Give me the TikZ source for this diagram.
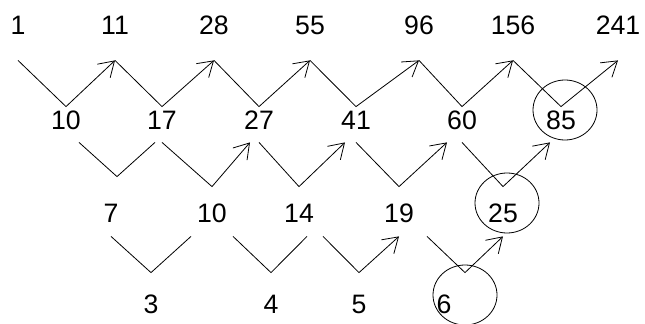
\documentclass[tikz,border=0pt]{standalone}
\usepackage{fontspec}
\setmainfont{Liberation Sans}
\usetikzlibrary{arrows.meta,shapes.geometric}

\begin{document}
\begin{tikzpicture}[x=0.75pt,y=-0.75pt,>={Straight Barb[length=11pt,width=14pt]},line width=0.6pt,every node/.style={font=\fontsize{20}{24}\selectfont,inner sep=0pt,anchor=base}]
\tikzstyle{rowA}=[text height=15pt,text depth=18.75pt]
\tikzstyle{rowB}=[text height=17.25pt,text depth=9pt]
\tikzstyle{rowC}=[text height=26.25pt,text depth=10.5pt]
\tikzstyle{rowD}=[text height=30pt,text depth=0pt]
\tikzstyle{ring}=[draw,ellipse,anchor=center,minimum width=48pt,minimum height=45pt]
\useasboundingbox (0,0) rectangle (645,324);
% sequence
\node[rowA] (a0) at (18,35) {1};
\node[rowA] (a1) at (115,35) {11};
\node[rowA] (a2) at (214,35) {28};
\node[rowA] (a3) at (310,35) {55};
\node[rowA] (a4) at (419,35) {96};
\node[rowA] (a5) at (513,35) {156};
\node[rowA] (a6) at (618,35) {241};
% first differences
\node[rowB] (b0) at (66,130) {10};
\node[rowB] (b1) at (162,130) {17};
\node[rowB] (b2) at (259,130) {27};
\node[rowB] (b3) at (356,130) {41};
\node[rowB] (b4) at (462,130) {60};
\node[rowB] (b5) at (561,130) {85};
% second differences
\node[rowC] (c0) at (111,222) {7};
\node[rowC] (c1) at (212,222) {10};
\node[rowC] (c2) at (299,222) {14};
\node[rowC] (c3) at (399,222) {19};
\node[rowC] (c4) at (503,222) {25};
% third differences
\node[rowD] (d0) at (151,313) {3};
\node[rowD] (d1) at (271,313) {4};
\node[rowD] (d2) at (359,313) {5};
\node[rowD] (d3) at (444,313) {6};
% rings
\node[ring] (o85) at (565,110) {};
\node[ring] (o25) at (507,203) {};
\node[ring] (o6) at (465,295) {};
% top to first
\draw[->] (a0.south) -- (b0.north) -- (a1.south);
\draw[->] (a1.south) -- (b1.north) -- (a2.south);
\draw[->] (a2.south) -- (b2.north) -- (a3.south);
\draw[->] (a3.south) -- (b3.north) -- (a4.south);
\draw[->] (a4.south) -- (b4.north) -- (a5.south);
\draw[->] (a5.south) -- (b5.north) -- (a6.south);
% first to second
\draw ([shift={(13,0)}]b0.south) -- ([shift={(6,-10)}]c0.north) -- ([shift={(-7,0)}]b1.south);
\draw[->] (b1.south) -- (c1.north) -- ([shift={(-9,0)}]b2.south);
\draw[->] (b2.south) -- (c2.north) -- ([shift={(-11,0)}]b3.south);
\draw[->] (b3.south) -- (c3.north) -- ([shift={(-15,0)}]b4.south);
\draw[->] (b4.south) -- (c4.north) -- ([shift={(-11,0)}]b5.south);
% second to third
\draw (c0.south) -- (d0.north) -- ([shift={(-21,0)}]c1.south);
\draw ([shift={(21,0)}]c1.south) -- (d1.north) -- ([shift={(8,0)}]c2.south);
\draw[->] ([shift={(24,0)}]c2.south) -- (d2.north) -- (c3.south);
\draw[->] ([shift={(28,0)}]c3.south) -- ([shift={(21,0)}]d3.north) -- (c4.south);
\end{tikzpicture}
\end{document}
